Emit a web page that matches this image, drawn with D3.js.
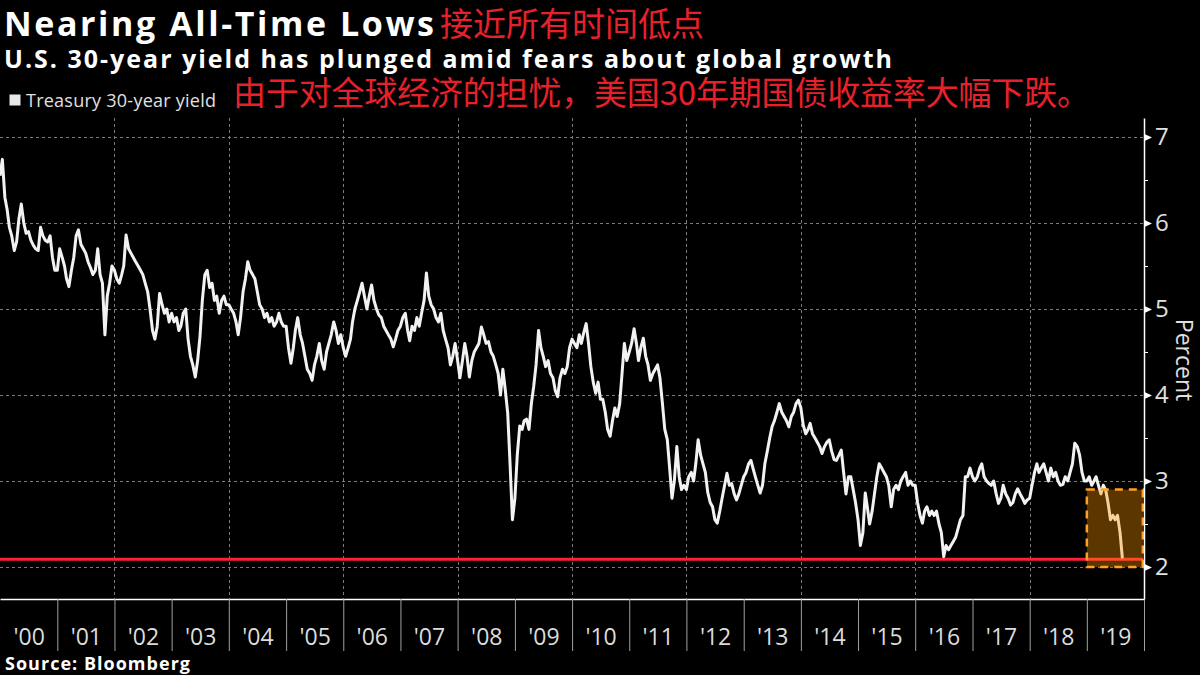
<!DOCTYPE html>
<html><head><meta charset="utf-8">
<script src="https://cdn.jsdelivr.net/npm/d3@7"></script>
<style>
html,body{margin:0;padding:0;background:#000;}
svg{display:block;}
</style></head>
<body>
<svg id="chart" width="1200" height="675"></svg>
<script>
// ---------- text ----------
const titleText = "Nearing All-Time Lows";
const titleCN = "接近所有时间低点";
const subtitleText = "U.S. 30-year yield has plunged amid fears about global growth";
const subtitleCN = "由于对全球经济的担忧，美国30年期国债收益率大幅下跌。";
const legendLabel = "Treasury 30-year yield";
const sourceText = "Source: Bloomberg";
const yAxisTitle = "Percent";

// ---------- axes ----------
const years = [2000,2001,2002,2003,2004,2005,2006,2007,2008,2009,2010,2011,2012,2013,2014,2015,2016,2017,2018,2019];
const yearLabels = ["'00","'01","'02","'03","'04","'05","'06","'07","'08","'09","'10","'11","'12","'13","'14","'15","'16","'17","'18","'19"];
const yTicks = [2,3,4,5,6,7];
const yMinorTicks = [2.5,3.5,4.5,5.5,6.5];
const yDomain = [1.628, 7.221];

// ---------- reference level & highlight ----------
const priorLow = [2.09];                       // 2016 low
const highlightDates = ["2019-01-01","2019-12-31"];
const highlightRange = [2.0, 2.9];

// ---------- series: 30-year yield, semi-monthly (1st & 16th) ----------
const y2000 = [6.55,6.74,6.30,6.15,5.95,5.85,5.68,5.78,6.05,6.22,6.00,5.88,5.90,5.80,5.74,5.70,5.68,5.95,5.85,5.80,5.78,5.85,5.60,5.45];
const y2001 = [5.45,5.70,5.60,5.50,5.35,5.26,5.45,5.60,5.85,5.92,5.75,5.70,5.65,5.55,5.48,5.40,5.45,5.70,5.40,5.30,4.70,5.15,5.30,5.50];
const y2002 = [5.45,5.35,5.30,5.40,5.50,5.86,5.70,5.65,5.60,5.55,5.50,5.45,5.40,5.30,5.20,5.00,4.75,4.65,4.80,5.18,5.05,4.95,5.00,4.85];
const y2003 = [4.95,4.85,4.90,4.75,4.80,4.95,5.00,4.65,4.45,4.35,4.21,4.40,4.68,5.10,5.40,5.45,5.25,5.30,5.10,5.15,4.95,5.10,5.15,5.05];
const y2004 = [5.05,5.00,4.95,4.85,4.70,4.90,5.20,5.35,5.55,5.45,5.40,5.35,5.20,5.05,5.00,4.90,4.95,4.85,4.90,4.80,4.85,4.95,4.85,4.80];
const y2005 = [4.80,4.55,4.37,4.55,4.75,4.90,4.70,4.60,4.45,4.30,4.25,4.17,4.35,4.45,4.60,4.40,4.30,4.50,4.60,4.70,4.85,4.75,4.60,4.70];
const y2006 = [4.55,4.45,4.55,4.65,4.85,5.00,5.10,5.20,5.30,5.15,5.00,5.15,5.28,5.10,5.00,4.93,4.90,4.80,4.75,4.70,4.65,4.56,4.65,4.75];
const y2007 = [4.80,4.90,4.95,4.75,4.63,4.80,4.75,4.90,4.80,4.95,5.10,5.42,5.15,5.05,5.00,4.90,4.85,4.95,4.75,4.65,4.55,4.35,4.45,4.60];
const y2008 = [4.40,4.20,4.40,4.60,4.45,4.21,4.40,4.50,4.55,4.60,4.79,4.70,4.60,4.62,4.50,4.45,4.35,4.25,4.00,4.30,4.05,3.79,3.20,2.55];
const y2009 = [2.80,3.30,3.64,3.60,3.70,3.72,3.60,3.90,4.10,4.35,4.75,4.55,4.45,4.33,4.40,4.25,4.20,4.05,3.98,4.20,4.30,4.25,4.33,4.55];
const y2010 = [4.65,4.60,4.55,4.70,4.60,4.72,4.83,4.60,4.33,4.15,4.02,4.15,3.95,3.95,3.80,3.60,3.52,3.70,3.85,3.75,3.90,4.25,4.60,4.40];
const y2011 = [4.50,4.60,4.77,4.60,4.40,4.55,4.66,4.45,4.35,4.17,4.25,4.30,4.35,4.20,3.90,3.60,3.48,3.15,2.80,3.00,3.40,3.05,2.90,2.95];
const y2012 = [2.90,3.05,3.10,3.00,3.20,3.48,3.30,3.20,3.10,2.87,2.75,2.70,2.55,2.51,2.65,2.80,2.95,3.09,2.95,2.97,2.85,2.78,2.85,2.95];
const y2013 = [3.05,3.10,3.20,3.24,3.15,3.05,2.95,2.86,2.95,3.20,3.35,3.50,3.63,3.70,3.80,3.90,3.80,3.75,3.70,3.63,3.75,3.80,3.90,3.94];
const y2014 = [3.85,3.65,3.55,3.60,3.67,3.55,3.50,3.45,3.40,3.32,3.40,3.45,3.48,3.35,3.25,3.24,3.30,3.36,3.10,2.85,3.05,3.05,2.90,2.75];
const y2015 = [2.55,2.25,2.40,2.86,2.70,2.50,2.65,2.85,3.05,3.20,3.15,3.10,3.05,2.95,2.70,2.90,2.95,2.90,3.00,3.05,3.10,2.95,3.00,2.95];
const y2016 = [2.95,2.75,2.60,2.51,2.65,2.70,2.60,2.65,2.60,2.65,2.50,2.40,2.12,2.25,2.20,2.25,2.30,2.35,2.45,2.55,2.60,3.05,3.05,3.15];
const y2017 = [3.05,3.00,3.05,3.15,3.20,3.05,3.00,2.97,2.95,3.00,2.85,2.74,2.80,2.95,2.85,2.80,2.72,2.75,2.85,2.91,2.85,2.80,2.74,2.78];
const y2018 = [2.80,2.95,3.10,3.20,3.10,3.15,3.20,3.10,3.00,3.15,3.05,3.10,3.00,2.95,2.96,3.05,3.00,3.10,3.20,3.44,3.40,3.30,3.10,3.00];
const y2019 = [3.00,3.05,2.95,3.00,3.05,2.95,2.85,2.95,2.90,2.75,2.55,2.60,2.55,2.60,2.40,2.10];
const seriesByYear = [y2000,y2001,y2002,y2003,y2004,y2005,y2006,y2007,y2008,y2009,y2010,y2011,y2012,y2013,y2014,y2015,y2016,y2017,y2018,y2019];

const data = [];
seriesByYear.forEach((vals, i) => {
  vals.forEach((v, k) => {
    data.push({date: new Date(years[i], Math.floor(k/2), k % 2 ? 16 : 1), value: v});
  });
});

// ---------- drawing ----------
const LATIN = "'Open Sans', 'DejaVu Sans', sans-serif";
const CJK = "'Noto Sans CJK SC', sans-serif";
const RED = "#e8202b";

const svg = d3.select("#chart");
svg.append("rect").attr("width",1200).attr("height",675).attr("fill","#000");

// stretch a text to a target width through letter spacing
function fitWidth(sel, target) {
  const n = sel.text().length;
  const w = sel.node().getComputedTextLength();
  sel.style("letter-spacing", ((target - w) / (n - 1)) + "px");
  return sel;
}

const x = d3.scaleTime().domain([new Date(2000,0,1), new Date(2020,0,1)]).range([0,1144]);
const y = d3.scaleLinear().domain(yDomain).range([599,118]);

// grid
const grid = svg.append("g").attr("shape-rendering","crispEdges");
grid.selectAll("line.h").data(yTicks).join("line").attr("class","h")
  .attr("x1",0).attr("x2",x.range()[1]).attr("y1",d=>Math.round(y(d))+0.5).attr("y2",d=>Math.round(y(d))+0.5)
  .attr("stroke","#7a7a7a").attr("stroke-width",1).attr("stroke-dasharray","3,3");
grid.selectAll("line.v").data(years.filter(d=>d%2===0 && d>2000)).join("line").attr("class","v")
  .attr("x1",d=>Math.round(x(new Date(d,0,1)))+0.5).attr("x2",d=>Math.round(x(new Date(d,0,1)))+0.5)
  .attr("y1",y.range()[1]).attr("y2",y.range()[0])
  .attr("stroke","#7a7a7a").attr("stroke-width",1).attr("stroke-dasharray","3,3");

// prior-low reference line
svg.append("line")
  .attr("x1",0).attr("x2",x.range()[1]-1)
  .attr("y1",y(priorLow[0])).attr("y2",y(priorLow[0]))
  .attr("stroke","#ff2038").attr("stroke-width",3);

// series line
const line = d3.line().x(d=>x(d.date)).y(d=>y(d.value));
svg.append("path").datum(data).attr("d",line)
  .attr("fill","none").attr("stroke","#f2f2f2").attr("stroke-width",3)
  .attr("stroke-linejoin","round");

// highlight box
const hx0 = x(new Date(highlightDates[0])), hx1 = x(new Date(highlightDates[1]));
svg.append("rect")
  .attr("x",hx0).attr("y",y(highlightRange[1]))
  .attr("width",hx1-hx0-1).attr("height",y(highlightRange[0])-y(highlightRange[1]))
  .attr("fill","rgba(255,150,0,0.36)")
  .attr("stroke","#ffa020").attr("stroke-width",2.5).attr("stroke-dasharray","8,6");

// x axis (year boundaries)
const xAxisG = svg.append("g").attr("transform","translate(0,599)");
xAxisG.call(d3.axisBottom(x)
  .tickValues(years.slice(1).map(d=>new Date(d,0,1)).concat([new Date(2020,0,1)]))
  .tickSize(52).tickSizeOuter(0).tickFormat(""));
xAxisG.select(".domain").attr("stroke","#ffffff").attr("stroke-width",1.5);
xAxisG.selectAll(".tick line").attr("stroke","#a0a0a0");

// x labels centered in each year
const xLabG = svg.append("g").attr("transform","translate(0,599)");
xLabG.call(d3.axisBottom(x)
  .tickValues(years.map(d=>new Date(d,6,2)))
  .tickSize(0).tickPadding(30)
  .tickFormat((d,i)=>yearLabels[i]));
xLabG.select(".domain").remove();
xLabG.selectAll("text").attr("fill","#dcdcdc").style("font-family",LATIN).style("font-size","23px");

// y axis
const yAxisG = svg.append("g").attr("transform","translate(1144,0)");
yAxisG.call(d3.axisRight(y).tickValues(yTicks).tickSize(0).tickPadding(11).tickSizeOuter(0).tickFormat(d3.format("d")));
yAxisG.select(".domain").attr("stroke","#ffffff").attr("stroke-width",1.5);
yAxisG.selectAll(".tick text").attr("fill","#e0e0e0").style("font-family",LATIN).style("font-size","24px");
yAxisG.selectAll(".tick").append("path").attr("d","M0.5,-3.5L8,0L0.5,3.5Z").attr("fill","#ffffff");

const yMinorG = svg.append("g").attr("transform","translate(1144,0)");
yMinorG.call(d3.axisRight(y).tickValues(yMinorTicks).tickSize(4).tickFormat(""));
yMinorG.select(".domain").remove();
yMinorG.selectAll(".tick line").attr("stroke","#ffffff");

svg.append("text").attr("transform","translate(1176,360) rotate(90)")
  .attr("text-anchor","middle").attr("fill","#e0e0e0")
  .style("font-family",LATIN).style("font-size","23px").text(yAxisTitle);

// titles
const t1 = svg.append("text").attr("x",4).attr("y",36)
  .style("font-family",LATIN).style("font-weight","700").style("font-size","34px").attr("fill","#ffffff").text(titleText);
fitWidth(t1, 430);
svg.append("text").attr("x",440).attr("y",36)
  .style("font-family",CJK).style("font-size","33px").attr("fill",RED).text(titleCN);

const st = svg.append("text").attr("x",4).attr("y",68)
  .style("font-family",LATIN).style("font-weight","700").style("font-size","25px").attr("fill","#ffffff").text(subtitleText);
fitWidth(st, 888);

// legend
svg.append("rect").attr("x",9.5).attr("y",94.5).attr("width",11).attr("height",11).attr("fill","#e8e8e8");
const lg = svg.append("text").attr("x",26).attr("y",107)
  .style("font-family",LATIN).style("font-size","18px").attr("fill","#e0e0e0").text(legendLabel);
fitWidth(lg, 190);
const sc = svg.append("text").attr("x",233).attr("y",105)
  .style("font-family",CJK).style("font-size","33px").attr("fill",RED).text(subtitleCN);
fitWidth(sc, 857);

// source
const src = svg.append("text").attr("x",5).attr("y",670)
  .style("font-family",LATIN).style("font-weight","700").style("font-size","18px").attr("fill","#ffffff").text(sourceText);
fitWidth(src, 185);
</script>
</body></html>
